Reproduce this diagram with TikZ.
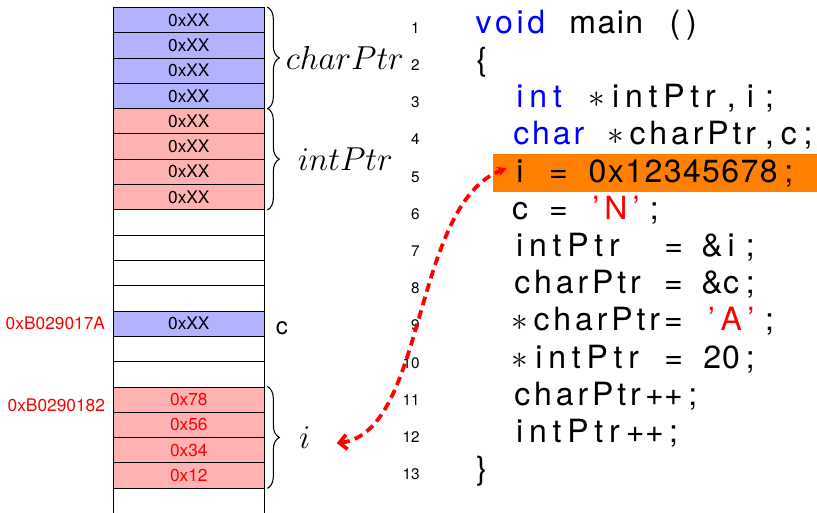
\documentclass[tikz,border=0pt]{standalone}
\usepackage{fontspec}
\setsansfont{TeX Gyre Heros}
\newfontfamily\codefont{TeX Gyre Heros}
\usetikzlibrary{positioning,decorations.pathreplacing,arrows.meta}

\newdimen\colw \colw=14.4pt
\newcount\nch
\def\countchars#1{\ifx\relax#1\else\advance\nch by 1 \expandafter\countchars\fi}
\def\spreadchars#1{\ifx\relax#1\else\hss#1\expandafter\spreadchars\fi}
\newcommand\cunit[1]{\nch=0 \countchars#1\relax\hbox to \nch\colw{\spreadchars#1\relax\hss}}
\newcommand\cskip{\hbox to \colw{}}
\newcommand\ckey[1]{{\color{blue}\cunit{#1}}}
\newcommand\cstr[1]{{\color{red}\cunit{#1}}}
\newcommand\cast{$\ast$}

\begin{document}
\begin{tikzpicture}[x=0.75pt, y=-0.75pt,
  every node/.style={inner sep=0pt},
  cell/.style={draw, line width=0.5pt, anchor=north west,
    minimum width=113.25pt, minimum height=18.975pt,
    font=\sffamily\fontsize{13pt}{15pt}\selectfont},
  addr/.style={text=red, font=\sffamily\fontsize{13pt}{15pt}\selectfont},
  brc/.style={decorate, decoration={brace, amplitude=9pt, raise=2pt},
    line width=0.8pt},
  lbl/.style={font=\fontsize{24pt}{28pt}\selectfont},
  lnum/.style={anchor=base east, font=\sffamily\fontsize{11.5pt}{13pt}\selectfont},
  codeline/.style={font=\codefont\fontsize{24pt}{28pt}\selectfont},
  hlbox/.style={fill=orange, anchor=north west,
    minimum width=253pt, minimum height=28.3pt},
  ptr/.style={red, line width=2.8pt, dash pattern=on 6.5pt off 4pt,
    {Straight Barb[length=5.5pt,width=11pt]}-{Stealth[length=7pt,width=7.5pt]}}]
  \useasboundingbox (0,0) rectangle (817,513);

  \foreach \k/\f/\c/\t in {0/blue!30/black/0xXX, 1/blue!30/black/0xXX,
      2/blue!30/black/0xXX, 3/blue!30/black/0xXX, 4/red!30/black/0xXX,
      5/red!30/black/0xXX, 6/red!30/black/0xXX, 7/red!30/black/0xXX,
      8/white/black/, 9/white/black/, 10/white/black/, 11/white/black/,
      12/blue!30/black/0xXX, 13/white/black/, 14/white/black/,
      15/red!30/red/0x78, 16/red!30/red/0x56, 17/red!30/red/0x34,
      18/red!30/red/0x12}
    \node[cell, fill=\f, text=\c] (m\k) at (113,{7+25.3*\k}) {\t};
  \node[cell, minimum height=30pt] (m19) at (113,487.7) {};

  \node[addr, left=5.8pt of m12] (a12) {0xB029017A};
  \node[addr, left=5.8pt of m15, yshift=-4pt] (a15) {0xB0290182};
  \node[font=\sffamily\fontsize{18pt}{21pt}\selectfont,
    right=8.25pt of m12, yshift=-3.5pt] (cl) {c};

  \draw[brc] (m0.north east) -- (m3.south east)
    node[lbl, midway, right=15.5pt] (cp) {$charPtr$};
  \draw[brc] (m4.north east) -- (m7.south east)
    node[lbl, midway, right=24.5pt] (ip) {$intPtr$};
  \draw[brc] (m15.north east) -- (m18.south east)
    node[lbl, midway, right=25.5pt] (il) {$i$};

  \node[hlbox] (hl) at (492.7,154) {};

  \foreach \n in {1,...,13}
    \node[lnum] (n\n) at (420,{33.3+37.2*(\n-1)}) {\n};

  \node[codeline, base right=38.8pt of n1] (c1) {\ckey{void}\cskip\cunit{main}\cskip\cunit{()}};
  \node[codeline, base right=38.8pt of n2] (c2) {\cunit{\{}};
  \node[codeline, base right=38.8pt of n3] (c3) {\cskip\cskip\ckey{int}\cskip\cunit{\cast}\cunit{intPtr}\cunit{,}\cunit{i}\cunit{;}};
  \node[codeline, base right=38.8pt of n4] (c4) {\cskip\cskip\ckey{char}\cskip\cunit{\cast}\cunit{charPtr}\cunit{,}\cunit{c}\cunit{;}};
  \node[codeline, base right=38.8pt of n5] (c5) {\cskip\cskip\cunit{i}\cskip\cunit{=}\cskip\cunit{0x12345678}\cunit{;}};
  \node[codeline, base right=38.8pt of n6] (c6) {\cskip\cskip\cunit{c}\cskip\cunit{=}\cskip\cstr{’N’}\cunit{;}};
  \node[codeline, base right=38.8pt of n7] (c7) {\cskip\cskip\cunit{intPtr}\cskip\cskip\cunit{=}\cskip\cunit{\&}\cunit{i}\cunit{;}};
  \node[codeline, base right=38.8pt of n8] (c8) {\cskip\cskip\cunit{charPtr}\cskip\cunit{=}\cskip\cunit{\&}\cunit{c}\cunit{;}};
  \node[codeline, base right=38.8pt of n9] (c9) {\cskip\cskip\cunit{\cast}\cunit{charPtr}\cunit{=}\cskip\cstr{’A’}\cunit{;}};
  \node[codeline, base right=38.8pt of n10] (c10) {\cskip\cskip\cunit{\cast}\cunit{intPtr}\cskip\cunit{=}\cskip\cunit{20}\cunit{;}};
  \node[codeline, base right=38.8pt of n11] (c11) {\cskip\cskip\cunit{charPtr}\cunit{+}\cunit{+}\cunit{;}};
  \node[codeline, base right=38.8pt of n12] (c12) {\cskip\cskip\cunit{intPtr}\cunit{+}\cunit{+}\cunit{;}};
  \node[codeline, base right=38.8pt of n13] (c13) {\cunit{\}}};

  \coordinate (itail) at ([xshift=19.5pt,yshift=-4.3pt]il.east);
  \coordinate (tip) at ([xshift=10.5pt,yshift=3.6pt]hl.west);
  \draw[ptr] (itail) .. controls +(90,-11) and +(-95,36) .. (tip);
\end{tikzpicture}
\end{document}
